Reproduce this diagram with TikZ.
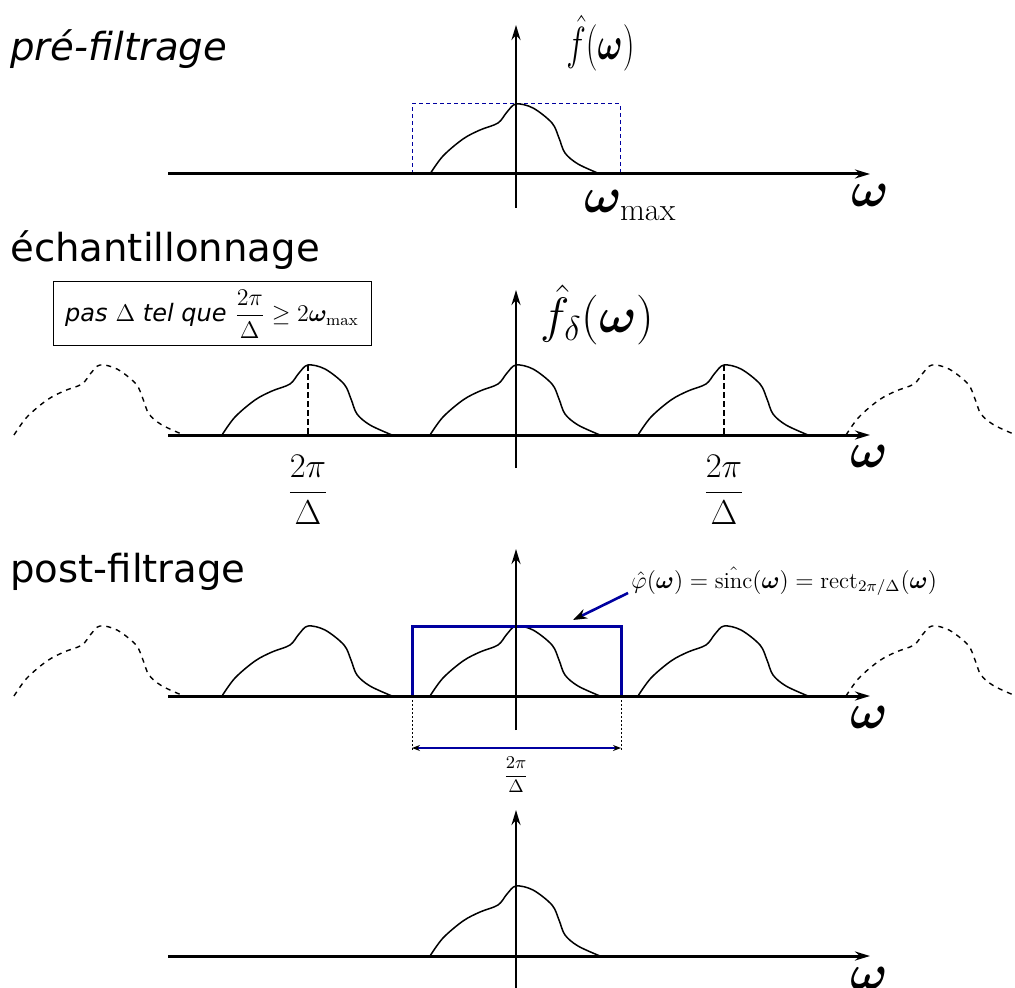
\documentclass[tikz,border=0pt]{standalone}
\usepackage{fontspec}
\usepackage{graphicx}
\usepackage{amsmath,bm}
\usetikzlibrary{arrows.meta}
\newfontfamily\dejavu{DejaVu Sans}
\definecolor{fblue}{RGB}{0,0,160}
\newcommand{\bumpcurve}[3]{%
  \draw[#1, shift={(#2,#3)}] plot[smooth, tension=0.55] coordinates {(-86,0) (-73,-18) (-53,-35) (-36,-44) (-18,-51) (-9,-62) (0,-70) (17,-66) (36,-51) (43,-36) (49,-21) (62,-10) (84,0)};}
\begin{document}
\begin{tikzpicture}[x=0.5pt,y=-0.5pt,
  haxis/.style={line width=1.5pt,-{Stealth[length=7.5pt,width=4.5pt]}},
  vaxis/.style={line width=1.2pt,-{Stealth[length=7.5pt,width=4.5pt]}},
  spec/.style={line width=0.75pt},
  ghost/.style={line width=0.7pt,dash pattern=on 2.5pt off 2.5pt},
  peakline/.style={line width=0.6pt,dash pattern=on 3pt off 1.5pt},
  title/.style={font=\dejavu\fontsize{19.3}{23}\selectfont,anchor=base west,inner sep=0pt},
  biglbl/.style={font=\fontsize{23}{27}\selectfont,inner sep=0pt},
  fraclbl/.style={font=\fontsize{17.5}{21}\selectfont,inner sep=0pt},
  smalllbl/.style={font=\fontsize{11.5}{14}\selectfont,inner sep=0pt},
  filterbox/.style={fblue,line width=1.5pt},
  bandbox/.style={fblue,line width=0.5pt,dash pattern=on 2pt off 1.5pt},
  dimline/.style={line width=0.5pt,dash pattern=on 1pt off 1pt},
  dimarrow/.style={fblue,line width=0.6pt,{Stealth[black,length=4pt,width=3pt]}-{Stealth[black,length=4pt,width=3pt]}},
  annarrow/.style={fblue,line width=1.3pt,-{Stealth[black,length=7pt,width=5pt]}}
]
\useasboundingbox (0,0) rectangle (1015,988);

% ---------- titles ----------
\node[title] (t1) at (10,61) {\itshape pré-filtrage};
\node[title] (t2) at (10,262) {échantillonnage};
\node[title] (t3) at (10,582) {post-filtrage};

% ---------- panel 1 ----------
\draw[bandbox] (412,174) -- (412,104) -- (620,104) -- (620,174);
\bumpcurve{spec}{516}{174}
\coordinate (h1s) at (168,174); \coordinate (h1e) at (870,174);
\coordinate (v1s) at (516,208); \coordinate (v1e) at (516,25);
\draw[haxis] (h1s) -- (h1e);
\draw[vaxis] (v1s) -- (v1e);
\node[font=\fontsize{22}{26}\selectfont,inner sep=0pt,anchor=base west] (fhat) at (566,60) {\scalebox{0.8}[1.12]{$\hat f(\bm\omega)$}};
\node[biglbl,anchor=base west] (wmax) at (584,213) {$\bm\omega_{\max}$};
\node[biglbl] (w1) at (870,195) {$\bm\omega$};

% ---------- panel 2 ----------
\node[draw,line width=0.5pt,minimum width=159pt,minimum height=32pt,inner sep=0pt] (cond) at (212,314)
  {\fontsize{12}{14}\selectfont{\dejavu\itshape pas} $\Delta$ {\dejavu\itshape tel que} $\displaystyle\frac{2\pi}{\Delta}\geq 2\bm\omega_{\max}$};
\bumpcurve{ghost}{100}{435}
\bumpcurve{ghost}{932}{435}
\bumpcurve{spec}{308}{435}
\bumpcurve{spec}{516}{435}
\bumpcurve{spec}{724}{435}
\coordinate (p2a) at (308,365); \coordinate (p2b) at (308,435);
\coordinate (p2c) at (724,365); \coordinate (p2d) at (724,435);
\draw[peakline] (p2a) -- (p2b);
\draw[peakline] (p2c) -- (p2d);
\coordinate (h2s) at (168,435); \coordinate (h2e) at (870,435);
\coordinate (v2s) at (516,468); \coordinate (v2e) at (516,290);
\draw[haxis] (h2s) -- (h2e);
\draw[vaxis] (v2s) -- (v2e);
\node[biglbl,anchor=base west] (fdelta) at (540,333) {$\hat f_\delta(\bm\omega)$};
\node[biglbl] (w2) at (869,456) {$\bm\omega$};
\node[fraclbl] (fracL) at (308,490) {$\dfrac{2\pi}{\Delta}$};
\node[fraclbl] (fracR) at (724,490) {$\dfrac{2\pi}{\Delta}$};

% ---------- panel 3 ----------
\bumpcurve{ghost}{100}{696}
\bumpcurve{ghost}{932}{696}
\bumpcurve{spec}{308}{696}
\bumpcurve{spec}{516}{696}
\bumpcurve{spec}{724}{696}
\draw[filterbox] (412,696) -- (412,626) -- (621,626) -- (621,696);
\coordinate (d3a) at (412,696); \coordinate (d3b) at (412,750);
\coordinate (d3c) at (621,696); \coordinate (d3d) at (621,750);
\draw[dimline] (d3a) -- (d3b);
\draw[dimline] (d3c) -- (d3d);
\coordinate (dimL) at (412,748); \coordinate (dimR) at (621,748);
\draw[dimarrow] (dimL) -- (dimR);
\node[font=\fontsize{9.5}{12}\selectfont,inner sep=0pt] (fracS) at (516,775) {$\dfrac{2\pi}{\Delta}$};
\coordinate (h3s) at (168,696); \coordinate (h3e) at (870,696);
\coordinate (v3s) at (516,730); \coordinate (v3e) at (516,549);
\draw[haxis] (h3s) -- (h3e);
\draw[vaxis] (v3s) -- (v3e);
\node[biglbl] (w3) at (869,717) {$\bm\omega$};
\node[smalllbl,anchor=base west] (phi) at (631,588)
  {$\hat\varphi(\bm\omega)=\hat{\mathrm{sinc}}(\bm\omega)=\mathrm{rect}_{2\pi/\Delta}(\bm\omega)$};
\coordinate (annS) at (628,593); \coordinate (annT) at (573,620);
\draw[annarrow] (annS) -- (annT);

% ---------- panel 4 ----------
\bumpcurve{spec}{516}{956}
\coordinate (h4s) at (168,956); \coordinate (h4e) at (870,956);
\coordinate (v4s) at (516,992); \coordinate (v4e) at (516,810);
\draw[haxis] (h4s) -- (h4e);
\draw[vaxis] (v4s) -- (v4e);
\node[biglbl] (w4) at (869,978) {$\bm\omega$};
\end{tikzpicture}
\end{document}
